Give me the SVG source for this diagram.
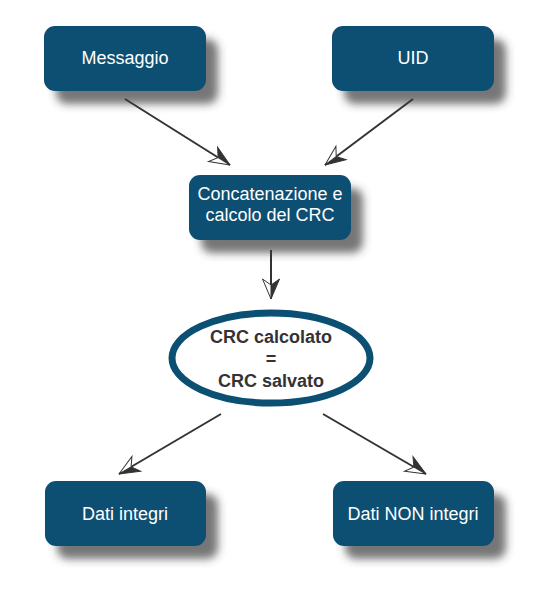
<svg xmlns="http://www.w3.org/2000/svg" width="542" height="600" viewBox="0 0 542 600">
<style>
.box{fill:#0b4f72;}
.t{font-family:"Liberation Sans",Arial,sans-serif;font-size:18px;fill:#ffffff;text-anchor:middle;}
.tb{font-family:"Liberation Sans",Arial,sans-serif;font-size:18px;font-weight:bold;fill:#333333;text-anchor:middle;}
.ln{stroke:#333333;stroke-width:2;fill:none;marker-end:url(#ah);}
</style>
<defs>
<filter id="sh" x="-20%" y="-20%" width="150%" height="170%">
<feDropShadow dx="12" dy="13" stdDeviation="4" flood-color="#3a3a3a" flood-opacity="0.7"/>
</filter>
<marker id="ah" markerUnits="userSpaceOnUse" markerWidth="26" markerHeight="22" viewBox="-22 -11 26 22" refX="0" refY="0" orient="auto">
<path d="M0,0 L-20,-8.5 L-14,0 Z" fill="#333333" stroke="#333333" stroke-width="1" stroke-linejoin="miter"/>
<path d="M0,0 L-20,8.5 L-14,0 Z" fill="#ffffff" stroke="#333333" stroke-width="1" stroke-linejoin="miter"/>
</marker>
</defs>
<rect width="542" height="600" fill="#ffffff"/>
<g id="connectors">
<line class="ln" x1="125" y1="99" x2="230" y2="165"/>
<line class="ln" x1="413" y1="99" x2="325" y2="165"/>
<line class="ln" x1="271" y1="250" x2="271" y2="299"/>
<line class="ln" x1="221" y1="414" x2="119" y2="474"/>
<line class="ln" x1="323" y1="414" x2="426" y2="474"/>
</g>
<g id="messaggio">
<rect class="box" x="44" y="26" width="162" height="65" rx="11" filter="url(#sh)"/>
<text class="t" x="125" y="64">Messaggio</text>
</g>
<g id="uid">
<rect class="box" x="332" y="26" width="162" height="65" rx="11" filter="url(#sh)"/>
<text class="t" x="413" y="64">UID</text>
</g>
<g id="concatenazione">
<rect class="box" x="189" y="175" width="162" height="65" rx="11" filter="url(#sh)"/>
<text class="t" x="270" y="200">Concatenazione e</text>
<text class="t" x="270" y="221">calcolo del CRC</text>
</g>
<g id="confronto">
<ellipse cx="271" cy="358" rx="99" ry="45" fill="#ffffff" stroke="#0b4f72" stroke-width="7"/>
<text class="tb" x="271" y="343">CRC calcolato</text>
<text class="tb" x="271" y="365">=</text>
<text class="tb" x="271" y="387">CRC salvato</text>
</g>
<g id="integri">
<rect class="box" x="45" y="481" width="161" height="65" rx="11" filter="url(#sh)"/>
<text class="t" x="125" y="520">Dati integri</text>
</g>
<g id="non-integri">
<rect class="box" x="333" y="481" width="161" height="65" rx="11" filter="url(#sh)"/>
<text class="t" x="413" y="520">Dati NON integri</text>
</g>
</svg>
